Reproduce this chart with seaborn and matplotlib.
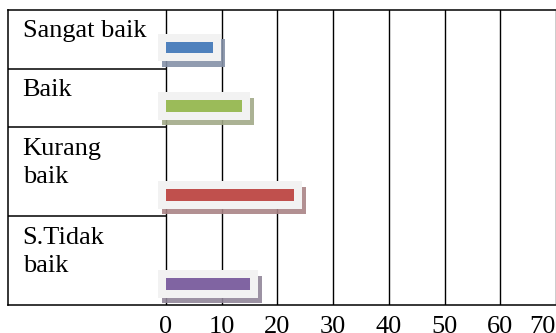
import numpy as np
import pandas as pd
import matplotlib
matplotlib.use("Agg")
import matplotlib.pyplot as plt
import matplotlib.patheffects as pe
import seaborn as sns

# Data
categories = ["Sangat baik", "Baik", "Kurang\nbaik", "S.Tidak\nbaik"]
values = [8.4, 13.6, 23.0, 15.0]
xticks = [0, 10, 20, 30, 40, 50, 60, 70]

# Styles
bar_colors = ["#4f81bd", "#9bbb59", "#c0504d", "#8064a2"]
shadow_colors = ["#8591a8", "#a2aa88", "#aa8486", "#918699"]
frame_color = "#f2f2f2"

W, H, DPI = 556, 333, 100
sns.set_style("white")
plt.rcParams["font.family"] = ["Liberation Serif", "DejaVu Serif"]
FS = 19

# Table geometry (pixels)
table_left, table_top = 8, 10
label_col = 158
plot_width = 390
px_per_unit = plot_width / xticks[-1]
n_lines = np.array([c.count("\n") + 1 for c in categories])
row_h = 28 + 30.5 * n_lines
row_bottom = np.cumsum(row_h)
row_top = row_bottom - row_h
table_h = row_bottom[-1]
bar_pos = row_bottom - 21
bar_px = 11.5
line_px = 29.3

fig = plt.figure(figsize=(W / DPI, H / DPI), dpi=DPI)
ax = fig.add_axes([table_left / W, (H - table_top - table_h) / H,
                   (W - table_left) / W, table_h / H])

df = pd.DataFrame({"category": categories, "value": values, "pos": bar_pos})
width = bar_px / np.diff(np.sort(bar_pos)).min()
sns.barplot(data=df, x="value", y="pos", hue="category",
            hue_order=categories, palette=bar_colors, saturation=1,
            orient="y", native_scale=True, width=width, linewidth=0,
            legend=False, errorbar=None, ax=ax, zorder=3)

# Framed, shadowed look for each bar
frame_lw = 16 * 72 / DPI
patches = sorted(ax.patches, key=lambda p: p.get_y() + p.get_height() / 2)
for p, sc in zip(patches, shadow_colors):
    p.set_path_effects([
        pe.PathPatchEffect(offset=(2.9, -4.0), facecolor=sc, edgecolor=sc,
                           linewidth=frame_lw, joinstyle="miter", alpha=0.9),
        pe.PathPatchEffect(facecolor=frame_color, edgecolor=frame_color,
                           linewidth=frame_lw, joinstyle="miter"),
        pe.Normal(),
    ])

xmin = -label_col / px_per_unit
ax.set_xlim(xmin, xticks[-1])
ax.set_ylim(table_h, 0)
ax.set_yticks([])
ax.set_xticks(xticks)
ax.set_xlabel("")
ax.set_ylabel("")
ax.tick_params(axis="x", length=0, labelsize=FS, pad=8.0, colors="black")
ax.get_xticklabels()[-1].set_ha("right")

ax.set_axisbelow(True)
ax.grid(axis="x", color="black", linewidth=1.0)
ax.grid(axis="y", visible=False)
for side in ["left", "top", "bottom"]:
    ax.spines[side].set_color("black")
    ax.spines[side].set_linewidth(1.1)
ax.spines["right"].set_visible(False)

# Row separators in the label column
ax.hlines(row_bottom[:-1], xmin, 0, color="black", linewidth=1.1, zorder=2)

# Row labels (baseline of the last line is the anchor)
for cat, top, n in zip(categories, row_top, n_lines):
    ax.text(xmin + 14.7 / px_per_unit, top + 27 + (n - 1) * line_px, cat,
            fontsize=FS, va="baseline", ha="left", linespacing=1.38,
            color="black")

fig.savefig("out.png", dpi=DPI)
